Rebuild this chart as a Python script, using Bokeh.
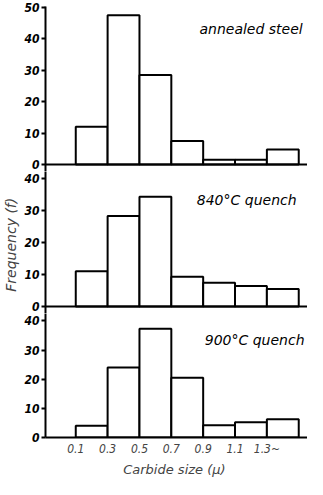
from bokeh.plotting import figure
from bokeh.layouts import column
from bokeh.models import FixedTicker, Span, Label, ColumnDataSource, Range1d
from bokeh.embed import file_html
from bokeh.resources import INLINE

# ---- data ----
bin_edges = [0.1, 0.3, 0.5, 0.7, 0.9, 1.1, 1.3, 1.5]
tick_positions = [0.1, 0.3, 0.5, 0.7, 0.9, 1.1, 1.3]
tick_labels = ["0.1", "0.3", "0.5", "0.7", "0.9", "1.1", "1.3~"]
annealed = [12, 47.5, 28.5, 7.5, 1.5, 1.5, 4.8]
quench_840 = [11, 28.3, 34.3, 9.3, 7.4, 6.4, 5.5]
quench_900 = [4, 24, 37.3, 20.5, 4.2, 5.2, 6.3]
titles = ["annealed steel", "840°C quench", "900°C quench"]
yticks_top = [0, 10, 20, 30, 40, 50]
yticks_other = [0, 10, 20, 30, 40]

TICK_FONT = "'DejaVu Sans Condensed', 'Liberation Sans Narrow', 'DejaVu Sans', sans-serif"
TEXT_FONT = "'DejaVu Sans', sans-serif"

W = 307
LEFT = 39
XR = (-0.09, 1.555)


def make_panel(values, title, yticks, yrange, height, top_border, bottom_border,
               show_x, label_xy, label_align, ylabel=None):
    p = figure(width=W, height=height, output_backend="svg", toolbar_location=None,
               x_range=Range1d(*XR), y_range=Range1d(*yrange),
               min_border_left=LEFT, min_border_right=0,
               min_border_top=top_border, min_border_bottom=bottom_border)
    p.outline_line_color = None
    p.grid.visible = False
    p.background_fill_color = "white"
    p.border_fill_color = "white"

    src = ColumnDataSource(dict(left=bin_edges[:-1], right=bin_edges[1:],
                                top=values, bottom=[0] * len(values)))
    p.quad(left="left", right="right", top="top", bottom="bottom", source=src,
           fill_color="white", line_color="black", line_width=2)

    # y axis
    ya = p.yaxis[0]
    ya.ticker = FixedTicker(ticks=yticks)
    ya.minor_tick_line_color = None
    ya.major_tick_in = 0
    ya.major_tick_out = 4
    ya.major_tick_line_width = 2
    ya.axis_line_width = 2
    ya.major_label_standoff = 2
    ya.major_label_text_font = TICK_FONT
    ya.major_label_text_font_style = "bold italic"
    ya.major_label_text_font_size = "12px"
    ya.major_label_text_color = "black"
    if ylabel:
        ya.axis_label = ylabel
        ya.axis_label_text_font = TEXT_FONT
        ya.axis_label_text_font_style = "italic"
        ya.axis_label_text_font_size = "14px"
        ya.axis_label_standoff = 2

    xa = p.xaxis[0]
    if show_x:
        xa.ticker = FixedTicker(ticks=tick_positions)
        xa.major_label_overrides = {t: l for t, l in zip(tick_positions, tick_labels)}
        xa.minor_tick_line_color = None
        xa.major_tick_in = 0
        xa.major_tick_out = 0
        xa.axis_line_width = 2
        xa.major_label_standoff = 4
        xa.major_label_text_font = TICK_FONT
        xa.major_label_text_font_style = "italic"
        xa.major_label_text_font_size = "12px"
        xa.axis_label = "Carbide size  (μ)"
        xa.axis_label_text_font = TEXT_FONT
        xa.axis_label_text_font_style = "italic"
        xa.axis_label_text_font_size = "13px"
        xa.axis_label_standoff = 3
    else:
        xa.visible = False
        p.add_layout(Span(location=0, dimension="width", line_color="black", line_width=2))

    p.add_layout(Label(x=label_xy[0], y=label_xy[1], text=title,
                       text_font=TEXT_FONT, text_font_style="italic",
                       text_font_size="14px", text_align=label_align,
                       text_baseline="middle", text_color="black"))
    return p


p1 = make_panel(annealed, titles[0], yticks_top, (-2.23, 50.3), 171, 6, 0,
                False, (1.525, 43.0), "right")
p2 = make_panel(quench_840, titles[1], yticks_other, (-2.19, 42.19), 142, 0, 0,
                False, (0.86, 33.4), "left", ylabel="Frequency  (f)")
p3 = make_panel(quench_900, titles[2], yticks_other, (0, 42.54), 166, 0, 32,
                True, (0.91, 33.6), "left")

layout = column(p1, p2, p3, spacing=0)
open("out.html", "w").write(file_html(layout, INLINE))
